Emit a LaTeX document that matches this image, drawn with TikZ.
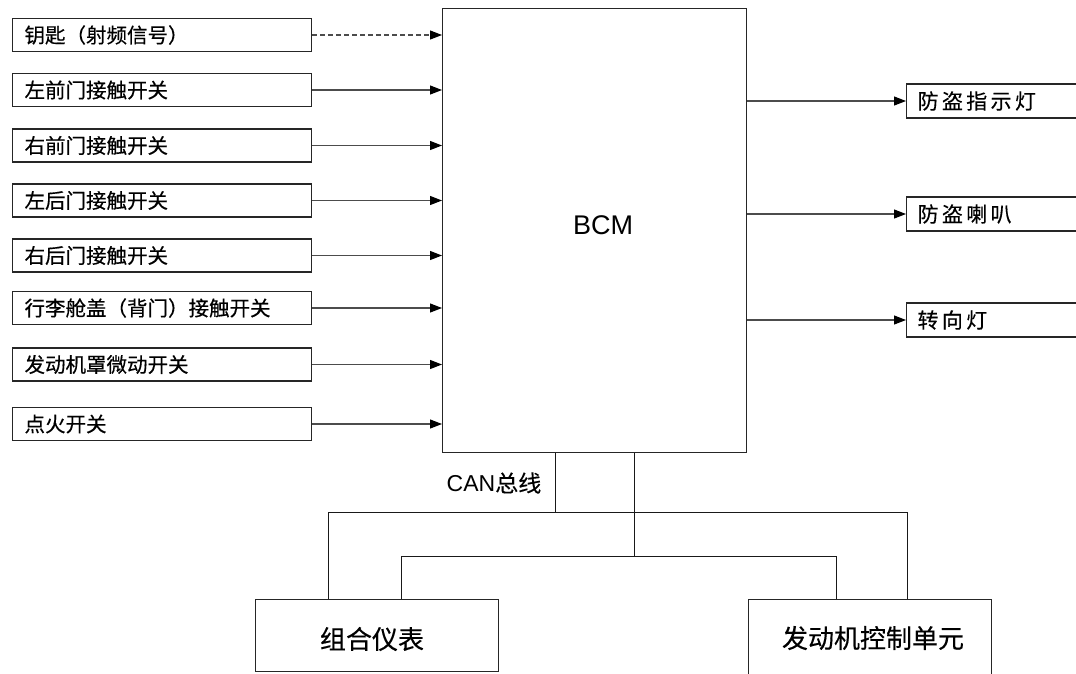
\documentclass[tikz,border=0pt]{standalone}
\usepackage{fontspec}
\setmainfont{Liberation Sans}
\newfontfamily\cjk[FakeBold=0.4]{Noto Sans CJK SC}
\newfontfamily\cjksp[LetterSpace=16,FakeBold=0.4]{Noto Sans CJK SC}
\usetikzlibrary{arrows.meta}
\begin{document}
\begin{tikzpicture}[x=1pt,y=-1pt,
  box/.style={draw=black!85, line width=1.1pt, inner sep=0pt},
  inbox/.style={box, anchor=west, minimum width=299pt, minimum height=33pt,
    inner xsep=12pt, text width=275pt, align=left, font=\fontsize{20.5}{22}\cjk},
  outbox/.style={box, anchor=west, minimum width=200pt, minimum height=34pt,
    inner xsep=11pt, text width=178pt, align=left, font=\fontsize{21}{22}\cjksp},
  botbox/.style={box, anchor=north west, minimum width=243pt,
    font=\fontsize{26}{28}\cjk},
  arr/.style={draw=black!70, line width=1.1pt,
    -{Triangle[length=12pt,width=9pt,color=black]}},
  bus/.style={draw=black!90, line width=0.9pt}
]
\useasboundingbox (0,0) rectangle (1076,673);
\clip (0,0) rectangle (1076,673);
\fill[white] (0,0) rectangle (1076,673);

% BCM
\node[box, anchor=north west, minimum width=304pt, minimum height=444pt] (bcm) at (442,8) {};
\node[font=\fontsize{27}{28}\selectfont] (bcmlabel) at (603,225) {BCM};

% inputs
\node[inbox] (i1) at (12,35) {钥匙（射频信号）};
\node[inbox] (i2) at (12,90) {左前门接触开关};
\node[inbox] (i3) at (12,145.5) {右前门接触开关};
\node[inbox] (i4) at (12,200.5) {左后门接触开关};
\node[inbox] (i5) at (12,255.5) {右后门接触开关};
\node[inbox] (i6) at (12,308) {行李舱盖（背门）接触开关};
\node[inbox] (i7) at (12,364.5) {发动机罩微动开关};
\node[inbox] (i8) at (12,424) {点火开关};

\draw[arr, dash pattern=on 5pt off 3pt] (i1.east) -- (i1.east -| bcm.west);
\foreach \n in {2,...,8} {
  \draw[arr] (i\n.east) -- (i\n.east -| bcm.west);
}

% outputs
\node[outbox] (o1) at (906,101) {防盗指示灯};
\node[outbox] (o2) at (906,214) {防盗喇叭};
\node[outbox] (o3) at (906,320) {转向灯};
\foreach \n in {1,2,3} {
  \draw[arr] (o\n.west -| bcm.east) -- (o\n.west);
}

% CAN bus
\node[font=\fontsize{23}{24}\selectfont, anchor=center] (can) at (494,483) {CAN{\cjk 总线}};
\node[botbox, minimum height=72pt] (ic) at (255,599) {};
\node[font=\fontsize{26}{28}\cjk] (iclabel) at (372,639) {组合仪表};
\node[botbox, minimum height=90pt] (ecu) at (748,599) {};
\node[font=\fontsize{26}{28}\cjk] (eculabel) at (873,638) {发动机控制单元};

\coordinate (b1) at (555,512);
\coordinate (b2) at (634,556);
\draw[bus] (bcm.south -| b1) -- (b1);
\draw[bus] ([xshift=-48.5pt]ic.north) |- (b1) -| ([xshift=37.5pt]ecu.north);
\draw[bus] (bcm.south -| b2) -- (b2);
\draw[bus] ([xshift=24.5pt]ic.north) |- (b2) -| ([xshift=-33.5pt]ecu.north);
\end{tikzpicture}
\end{document}
